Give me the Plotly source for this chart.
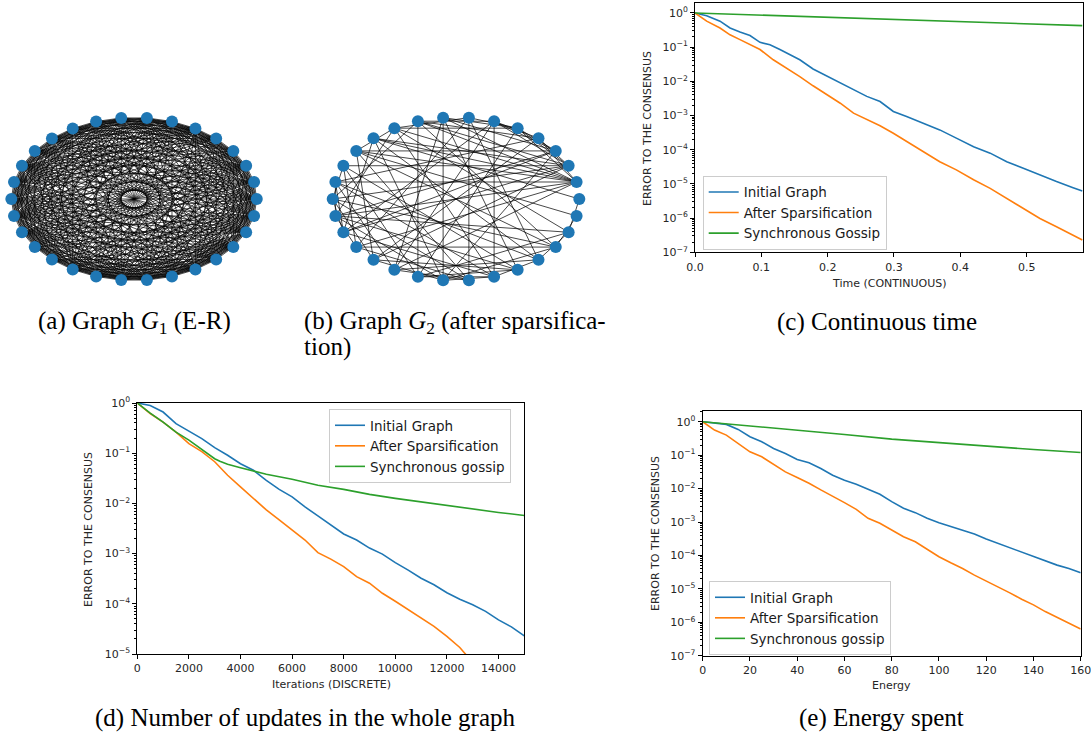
import math
import plotly.graph_objects as go

W, H = 1091, 740


def fx(p):
    return p / W


def fy(p):
    return 1 - p / H


BLUE = "#1f77b4"
ORANGE = "#ff7f0e"
GREEN = "#2ca02c"

# ---------------- Graph data ----------------
N_NODES = 30
# G1 (Erdos-Renyi, very dense): listed pairs are the absent edges
G1_NON_EDGES = [(0, 7), (1, 19), (2, 24), (3, 11), (4, 17), (5, 22), (6, 13), (8, 27),
                (9, 16), (10, 21), (12, 25), (14, 29), (3, 15), (18, 26), (20, 28),
                (7, 12), (11, 23), (2, 9), (16, 24), (5, 27), (13, 20), (0, 18),
                (19, 28), (6, 25), (1, 10)]
# G2 (after sparsification)
G2_EDGES = [(1, 8), (1, 9), (1, 10), (1, 11), (1, 12), (1, 14), (1, 16), (1, 18), (1, 20), (1, 4), (1, 5),
            (2, 13), (2, 11), (2, 15), (2, 17), (2, 6), (2, 9), (2, 19), (2, 4), (2, 5),
            (3, 8), (3, 12), (3, 16), (3, 22), (3, 5), (3, 6), (3, 17),
            (4, 9), (4, 14), (4, 19), (4, 6),
            (5, 10), (5, 21), (5, 8), (5, 7),
            (6, 24), (6, 9), (6, 17), (6, 20),
            (7, 23), (7, 10), (7, 26), (7, 18),
            (8, 25), (8, 20), (8, 22),
            (9, 21), (9, 27), (9, 15),
            (10, 16), (10, 24), (10, 28), (10, 12),
            (11, 22), (11, 26), (11, 17),
            (12, 27), (12, 19), (12, 23), (12, 29),
            (13, 25), (13, 18), (13, 21), (13, 15),
            (14, 24), (14, 26), (14, 17), (14, 20), (14, 16),
            (15, 23), (15, 27), (15, 19), (15, 17),
            (16, 25), (16, 22), (16, 28), (16, 18),
            (17, 24), (18, 27), (18, 23), (19, 25), (19, 22),
            (20, 26), (20, 23), (21, 25), (21, 28), (21, 24),
            (22, 24), (22, 27), (24, 26), (26, 28), (27, 29),
            (0, 11), (0, 28)]

# ---------------- (c) continuous time ----------------
c_time_initial = [0, 0.0176, 0.0377, 0.0528, 0.0678, 0.0829, 0.098, 0.113, 0.128, 0.143,
                  0.158, 0.178, 0.198, 0.219, 0.239, 0.259, 0.279, 0.299, 0.319, 0.344,
                  0.369, 0.394, 0.420, 0.445, 0.470, 0.495, 0.520, 0.545, 0.570, 0.584]
c_initial_log10 = [0, -0.08, -0.24, -0.44, -0.56, -0.66, -0.86, -0.93, -1.07, -1.22,
                   -1.37, -1.64, -1.84, -2.03, -2.25, -2.44, -2.59, -2.88, -3.03, -3.22,
                   -3.42, -3.66, -3.91, -4.10, -4.35, -4.54, -4.74, -4.93, -5.11, -5.21]
c_time_sparse = [0, 0.0176, 0.0377, 0.0528, 0.0678, 0.0829, 0.098, 0.118, 0.138, 0.158,
                 0.178, 0.198, 0.219, 0.239, 0.259, 0.279, 0.299, 0.319, 0.344, 0.369,
                 0.394, 0.420, 0.445, 0.470, 0.495, 0.520, 0.545, 0.570, 0.584]
c_sparse_log10 = [0, -0.24, -0.44, -0.64, -0.78, -0.93, -1.07, -1.37, -1.61, -1.86,
                  -2.13, -2.39, -2.64, -2.93, -3.11, -3.30, -3.52, -3.76, -4.05, -4.35,
                  -4.59, -4.88, -5.13, -5.42, -5.71, -6.01, -6.25, -6.49, -6.64]
c_time_gossip = [0, 0.1, 0.2, 0.3, 0.4, 0.5, 0.584]
c_gossip_log10 = [0, -0.06, -0.12, -0.19, -0.25, -0.32, -0.37]
c_xticks = [0, 0.1, 0.2, 0.3, 0.4, 0.5]
c_xticklabels = ["0.0", "0.1", "0.2", "0.3", "0.4", "0.5"]

# ---------------- (d) discrete iterations ----------------
d_iter_initial = [0, 500, 1000, 1500, 2000, 2500, 3000, 3500, 4000, 4500, 5000, 5500, 6000,
                  6500, 7000, 7500, 8000, 8500, 9000, 9500, 10000, 10500, 11000, 11500,
                  12000, 12500, 13000, 13500, 14000, 14500, 15000]
d_initial_log10 = [0, -0.05, -0.18, -0.41, -0.56, -0.71, -0.89, -1.04, -1.21, -1.34, -1.54,
                   -1.72, -1.87, -2.07, -2.25, -2.43, -2.61, -2.73, -2.89, -3.01, -3.18,
                   -3.33, -3.49, -3.62, -3.78, -3.91, -4.02, -4.15, -4.32, -4.46, -4.64]
d_iter_sparse = [0, 500, 1000, 1500, 2000, 2500, 3000, 3500, 4000, 4500, 5000, 5500, 6000,
                 6500, 7000, 7500, 8000, 8500, 9000, 9500, 10000, 10500, 11000, 11500,
                 12000, 12500, 13000]
d_sparse_log10 = [0, -0.21, -0.38, -0.58, -0.81, -0.97, -1.17, -1.44, -1.67, -1.90, -2.13,
                  -2.33, -2.53, -2.73, -2.98, -3.11, -3.26, -3.46, -3.59, -3.79, -3.95,
                  -4.12, -4.29, -4.45, -4.65, -4.87, -5.17]
d_iter_gossip = [0, 500, 1000, 1500, 2000, 2500, 3000, 3200, 3500, 4000, 4500, 5000, 6000,
                 7000, 8000, 9000, 10000, 11000, 12000, 13000, 14000, 15000]
d_gossip_log10 = [0, -0.20, -0.38, -0.58, -0.74, -0.93, -1.11, -1.16, -1.22, -1.29, -1.35,
                  -1.42, -1.52, -1.64, -1.72, -1.82, -1.90, -1.97, -2.05, -2.12, -2.18, -2.24]
d_xticks = [0, 2000, 4000, 6000, 8000, 10000, 12000, 14000]

# ---------------- (e) energy ----------------
e_energy = [0, 5, 10, 15, 20, 25, 30, 35, 40, 45, 50, 55, 60, 65, 70, 75, 80, 85, 90, 95,
            100, 105, 110, 115, 120, 125, 130, 135, 140, 145, 150, 155, 160]
e_initial_log10 = [0, -0.03, -0.08, -0.23, -0.45, -0.60, -0.80, -0.95, -1.13, -1.23,
                   -1.40, -1.60, -1.75, -1.87, -2.02, -2.17, -2.39, -2.59, -2.72, -2.89,
                   -3.02, -3.14, -3.24, -3.36, -3.51, -3.64, -3.76, -3.89, -4.01, -4.14,
                   -4.29, -4.39, -4.52]
e_sparse_log10 = [0, -0.25, -0.40, -0.65, -0.90, -1.05, -1.27, -1.50, -1.67, -1.84,
                  -2.04, -2.22, -2.42, -2.62, -2.89, -3.04, -3.24, -3.44, -3.59, -3.82,
                  -4.04, -4.22, -4.39, -4.59, -4.76, -4.94, -5.12, -5.31, -5.48, -5.68,
                  -5.86, -6.03, -6.20]
e_energy_gossip = [0, 20, 40, 60, 80, 100, 120, 140, 160]
e_gossip_log10 = [0, -0.12, -0.25, -0.38, -0.52, -0.63, -0.73, -0.83, -0.92]
e_xticks = [0, 20, 40, 60, 80, 100, 120, 140, 160]

NAMES_C = ["Initial Graph", "After Sparsification", "Synchronous Gossip"]
NAMES_DE = ["Initial Graph", "After Sparsification", "Synchronous gossip"]


def unlog(vals):
    return [10 ** v for v in vals]


# ---------------- figure ----------------
fig = go.Figure()

# circular layout positions (networkx-style)
pos = [(math.cos(2 * math.pi * k / N_NODES), math.sin(2 * math.pi * k / N_NODES))
       for k in range(N_NODES)]


def edge_xy(edges):
    xs, ys = [], []
    for a, b in edges:
        xs += [pos[a][0], pos[b][0], None]
        ys += [pos[a][1], pos[b][1], None]
    return xs, ys


non = set(tuple(sorted(e)) for e in G1_NON_EDGES)
G1_EDGES = [(i, j) for i in range(N_NODES) for j in range(i + 1, N_NODES) if (i, j) not in non]

for edges, xa, ya, lw, col in [(G1_EDGES, "x", "y", 0.75, "rgba(0,0,0,0.92)"),
                               (G2_EDGES, "x2", "y2", 0.9, "rgba(0,0,0,0.8)")]:
    ex, ey = edge_xy(edges)
    fig.add_trace(go.Scatter(x=ex, y=ey, mode="lines", line=dict(color=col, width=lw),
                             xaxis=xa, yaxis=ya, showlegend=False, hoverinfo="skip"))
    fig.add_trace(go.Scatter(x=[p[0] for p in pos], y=[p[1] for p in pos], mode="markers",
                             marker=dict(color=BLUE, size=12, line=dict(width=0)),
                             xaxis=xa, yaxis=ya, showlegend=False, cliponaxis=False))

panels = [
    ("x3", "y3", "legend",
     [(c_time_initial, c_initial_log10), (c_time_sparse, c_sparse_log10), (c_time_gossip, c_gossip_log10)],
     NAMES_C),
    ("x4", "y4", "legend2",
     [(d_iter_initial, d_initial_log10), (d_iter_sparse, d_sparse_log10), (d_iter_gossip, d_gossip_log10)],
     NAMES_DE),
    ("x5", "y5", "legend3",
     [(e_energy, e_initial_log10), (e_energy, e_sparse_log10), (e_energy_gossip, e_gossip_log10)],
     NAMES_DE),
]
for xa, ya, lg, series, names in panels:
    for (xs, ls), name, col in zip(series, names, [BLUE, ORANGE, GREEN]):
        fig.add_trace(go.Scatter(x=xs, y=unlog(ls), mode="lines", name=name,
                                 line=dict(color=col, width=1.6), xaxis=xa, yaxis=ya,
                                 legend=lg))

TICKFONT = dict(family="DejaVu Sans", size=11, color="#262626")
axis_common = dict(showline=True, linecolor="black", linewidth=1, mirror=True,
                   ticks="outside", ticklen=4, tickwidth=1, tickcolor="black",
                   showgrid=False, zeroline=False, tickfont=TICKFONT, automargin=False,
                   ticklabeloverflow="allow")


def sup(k):
    return "10<sup>%s</sup>" % (str(k) if k >= 0 else "\u2212" + str(-k))


def yaxis_log(lo, hi, dom, anchor):
    exps = list(range(lo, 1))
    minor_vals = [m * 10 ** k for k in range(lo, 1) for m in range(2, 10)]
    return dict(axis_common, type="log", range=[lo, hi], domain=dom, anchor=anchor,
                tickvals=[10 ** k for k in exps], ticktext=[sup(k) for k in exps],
                minor=dict(ticks="outside", ticklen=2, tickcolor="black", tickwidth=0.8,
                           tickvals=minor_vals, showgrid=False))


hidden = dict(visible=False, showgrid=False, zeroline=False, automargin=False)

fig.update_layout(
    width=W, height=H, margin=dict(l=0, r=0, t=0, b=0, pad=0, autoexpand=False),
    autosize=False,
    paper_bgcolor="white", plot_bgcolor="white",
    xaxis=dict(hidden, domain=[fx(0.3), fx(267.8)], range=[-1.09, 1.09], anchor="y"),
    yaxis=dict(hidden, domain=[fy(298), fy(100)], range=[-1.2147, 1.2147], anchor="x"),
    xaxis2=dict(hidden, domain=[fx(321), fx(591)], range=[-1.0949, 1.0949], anchor="y2"),
    yaxis2=dict(hidden, domain=[fy(298), fy(100)], range=[-1.2103, 1.2103], anchor="x2"),
    xaxis3=dict(axis_common, domain=[fx(695), fx(1082.7)], range=[0, 0.5845], anchor="y3",
                tickvals=c_xticks, ticktext=c_xticklabels),
    yaxis3=yaxis_log(-7, 0.30, [fy(252.3), fy(2.7)], "x3"),
    xaxis4=dict(axis_common, domain=[fx(137.3), fx(524.3)], range=[0, 15000], anchor="y4",
                tickvals=d_xticks, ticktext=[str(v) for v in d_xticks]),
    yaxis4=yaxis_log(-5, 0.0, [fy(654), fy(403)], "x4"),
    xaxis5=dict(axis_common, domain=[fx(702.7), fx(1080.7)], range=[0, 160], anchor="y5",
                tickvals=e_xticks, ticktext=[str(v) for v in e_xticks]),
    yaxis5=yaxis_log(-7, 0.33, [fy(655.7), fy(410.7)], "x5"),
)

legend_common = dict(font=dict(family="DejaVu Sans", size=13.5, color="#1a1a1a"),
                     bgcolor="rgba(255,255,255,0.8)", bordercolor="#cccccc", borderwidth=1,
                     xanchor="left", yanchor="top", itemwidth=30, tracegroupgap=0)
fig.update_layout(
    legend=dict(legend_common, x=fx(702.7), y=fy(175.7)),
    legend2=dict(legend_common, x=fx(329), y=fy(409)),
    legend3=dict(legend_common, x=fx(709), y=fy(581)),
)

LABELFONT = dict(family="DejaVu Sans", size=11, color="#262626")
CAPFONT = dict(family="Liberation Serif", size=25, color="black")
ann = []
# axis titles
for x, y, t, ang in [(647, 129, "ERROR TO THE CONSENSUS", -90),
                     (88, 530, "ERROR TO THE CONSENSUS", -90),
                     (655, 534, "ERROR TO THE CONSENSUS", -90),
                     (889, 283, "Time (CONTINUOUS)", 0),
                     (331, 684, "Iterations (DISCRETE)", 0),
                     (891.5, 685, "Energy", 0)]:
    ann.append(dict(x=fx(x), y=fy(y), xref="paper", yref="paper", text=t, showarrow=False,
                    textangle=ang, font=LABELFONT, xanchor="center", yanchor="middle"))
# captions
for x, y, t in [(36, 322, "(a) Graph <i>G</i><sub>1</sub> (E-R)"),
                (302, 322, "(b) Graph <i>G</i><sub>2</sub> (after sparsifica-"),
                (302, 347, "tion)"),
                (775, 322, "(c) Continuous time"),
                (93, 718, "(d) Number of updates in the whole graph"),
                (797, 718, "(e) Energy spent")]:
    ann.append(dict(x=fx(x), y=fy(y), xref="paper", yref="paper", text=t, showarrow=False,
                    font=CAPFONT, xanchor="left", yanchor="middle"))
fig.update_layout(annotations=ann)

fig.write_html("out.html", config={"displayModeBar": False},
               post_script="document.body.style.margin='0';document.body.style.overflow='hidden';")
